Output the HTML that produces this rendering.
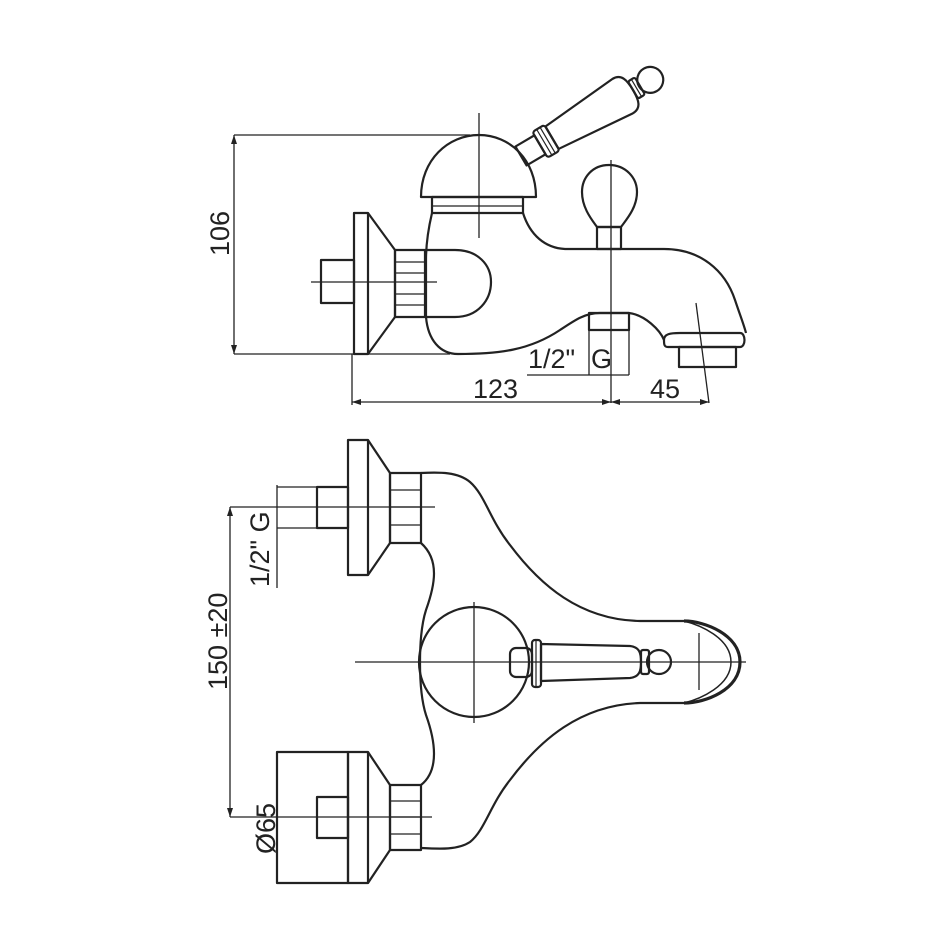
<!DOCTYPE html>
<html><head><meta charset="utf-8"><style>
html,body{margin:0;padding:0;background:#fff;}
svg{display:block;}
text{font-family:"Liberation Sans",sans-serif;fill:#222;}
</style></head><body>
<svg width="950" height="950" viewBox="0 0 950 950" xmlns="http://www.w3.org/2000/svg">
<g fill="none" stroke="#222" stroke-width="2.2" stroke-linejoin="round">
<line x1="234" y1="135" x2="234" y2="354" stroke-width="1.3"/>
<line x1="234" y1="135" x2="470" y2="135" stroke-width="1.3"/>
<line x1="234" y1="354" x2="450" y2="354" stroke-width="1.3"/>
<rect x="354" y="213" width="14" height="141"/>
<path d="M368 213 L395 250 L395 317 L368 354"/>
<rect x="395" y="250" width="30" height="67"/>
<path d="M395 262 H425 M395 273 H425 M395 294 H425 M395 305 H425" stroke-width="1.3"/>
<rect x="321" y="260" width="33" height="43"/>
<line x1="311" y1="282" x2="437" y2="282" stroke-width="1.3"/>
<path d="M425 250 L455 250 C478 250 491 265 491 282 C491 300 478 317 455 317 L425 317"/>
<path d="M432 213 C428 230 426 245 426 260 L426 317 C428 340 440 354 458 354 C500 354 530 350 560 330 C575 320 585 313 600 313 L629 313 C645 315 660 330 664 340"/>
<path d="M523 213 C530 235 545 248 565 249 L664 249 C700 249 725 270 735 300 C740 315 744 325 746 333"/>
<path d="M421 197 C421 160 448 135 479 135 C510 135 536 160 536 197 Z"/>
<rect x="432" y="197" width="91" height="16"/>
<line x1="432" y1="206" x2="523" y2="206" stroke-width="1.3"/>
<line x1="479" y1="113" x2="479" y2="238" stroke-width="1.3"/>
<g transform="translate(521,156) rotate(-30.5)">
<rect x="0" y="-11" width="22" height="22"/>
<rect x="22" y="-15" width="14" height="30" rx="3"/>
<line x1="27" y1="-15" x2="27" y2="15" stroke-width="1.2"/>
<line x1="31" y1="-15" x2="31" y2="15" stroke-width="1.2"/>
<path d="M36 -13 L118 -20 C128 -20 130 -12 130 0 C130 12 128 20 118 20 L36 13 Z"/>
<rect x="130" y="-10" width="8" height="20" rx="2"/>
<line x1="134" y1="-10" x2="134" y2="10" stroke-width="1.2"/>
<circle cx="150" cy="0" r="13"/>
</g>
<path d="M609 165 C592 165 582 178 582 192 C582 208 592 220 597 227 L621 227 C626 220 637 208 637 192 C637 178 626 165 609 165 Z"/>
<rect x="597" y="227" width="24" height="22"/>
<line x1="611" y1="160" x2="611" y2="403" stroke-width="1.3"/>
<path d="M664 340 C664 334 670 333 680 333 L740 333 C746 333 746 347 740 347 L668 347 C664 347 664 344 664 340 Z"/>
<rect x="679" y="347" width="57" height="20"/>
<line x1="696" y1="303" x2="709" y2="403" stroke-width="1.3"/>
<rect x="589" y="313" width="40" height="17"/>
<path d="M589 330 V375 M629 330 V375 M527 375 H629" stroke-width="1.3"/>
<line x1="352" y1="354" x2="352" y2="405" stroke-width="1.3"/>
<line x1="352" y1="402" x2="709" y2="402" stroke-width="1.3"/>
<path d="M352 402 l9 -3 v6 z M611 402 l-9 -3 v6 z M611 402 l9 -3 v6 z M709 402 l-9 -3 v6 z M234 135 l-3 9 h6 z M234 354 l-3 -9 h6 z" fill="#222" stroke="none"/>

<rect x="348" y="440" width="20" height="135"/>
<path d="M368 440 L390 473 L390 543 L368 575"/>
<rect x="390" y="473" width="31" height="70"/>
<path d="M390 490 H421 M390 507 H421 M390 525 H421" stroke-width="1.3"/>
<rect x="317" y="487" width="31" height="41"/>
<line x1="277" y1="507" x2="435" y2="507" stroke-width="1.3"/>
<path d="M277 487 H317 M277 528 H317 M277 485 V588" stroke-width="1.3"/>
<rect x="277" y="752" width="71" height="131"/>
<rect x="348" y="752" width="20" height="131"/>
<path d="M368 752 L390 785 L390 850 L368 883"/>
<rect x="390" y="785" width="31" height="65"/>
<path d="M390 801 H421 M390 817 H421 M390 834 H421" stroke-width="1.3"/>
<rect x="317" y="797" width="31" height="41"/>
<line x1="230" y1="817" x2="432" y2="817" stroke-width="1.3"/>
<path d="M230 507 V817 M230 507 H277" stroke-width="1.3"/>
<path d="M421 473 C440 472 458 472 470 482 C485 495 490 520 510 545 C540 585 580 620 640 621 L684 621"/>
<path d="M684 703 L640 703 C580 705 540 740 510 780 C490 805 485 830 470 842 C458 850 440 849 421 848"/>
<path d="M684 621 C705 621 740 635 740 662 C740 690 705 703 684 703" stroke-width="3.2"/>
<path d="M684 621 C700 625 731 638 731 662 C731 686 700 699 684 703" stroke-width="1.5"/>
<path d="M421 543 C440 560 435 585 426 610 C418 635 418 690 426 715 C435 740 440 770 421 785"/>
<circle cx="474" cy="662" r="55"/>
<line x1="474" y1="602" x2="474" y2="723" stroke-width="1.3"/>
<line x1="355" y1="662" x2="746" y2="662" stroke-width="1.3"/>
<line x1="699" y1="633" x2="699" y2="690" stroke-width="1.3"/>
<rect x="510" y="648" width="22" height="29" rx="6"/>
<rect x="532" y="640" width="9" height="47" rx="3"/>
<line x1="536" y1="640" x2="536" y2="687" stroke-width="1.2"/>
<path d="M541 644 L630 646 C640 647 641 654 641 662 C641 670 640 677 630 678 L541 681 Z"/>
<rect x="641" y="650" width="8" height="24" rx="2"/>
<circle cx="659" cy="662" r="12"/>
</g>
<path d="M230 507 l-3 9 h6 z M230 817 l-3 -9 h6 z" fill="#222"/>
<text font-size="27" transform="translate(229,256) rotate(-90)">106</text>
<text x="473" y="398" font-size="27">123</text>
<text x="650" y="398" font-size="27">45</text>
<text x="528" y="368" font-size="27">1/2"</text>
<text x="591" y="368" font-size="27">G</text>
<text font-size="27" transform="translate(269,587) rotate(-90)">1/2" G</text>
<text font-size="27" transform="translate(227,690) rotate(-90)">150 ±20</text>
<text font-size="27" transform="translate(275,854) rotate(-90)">Ø65</text>
</svg>
</body></html>
